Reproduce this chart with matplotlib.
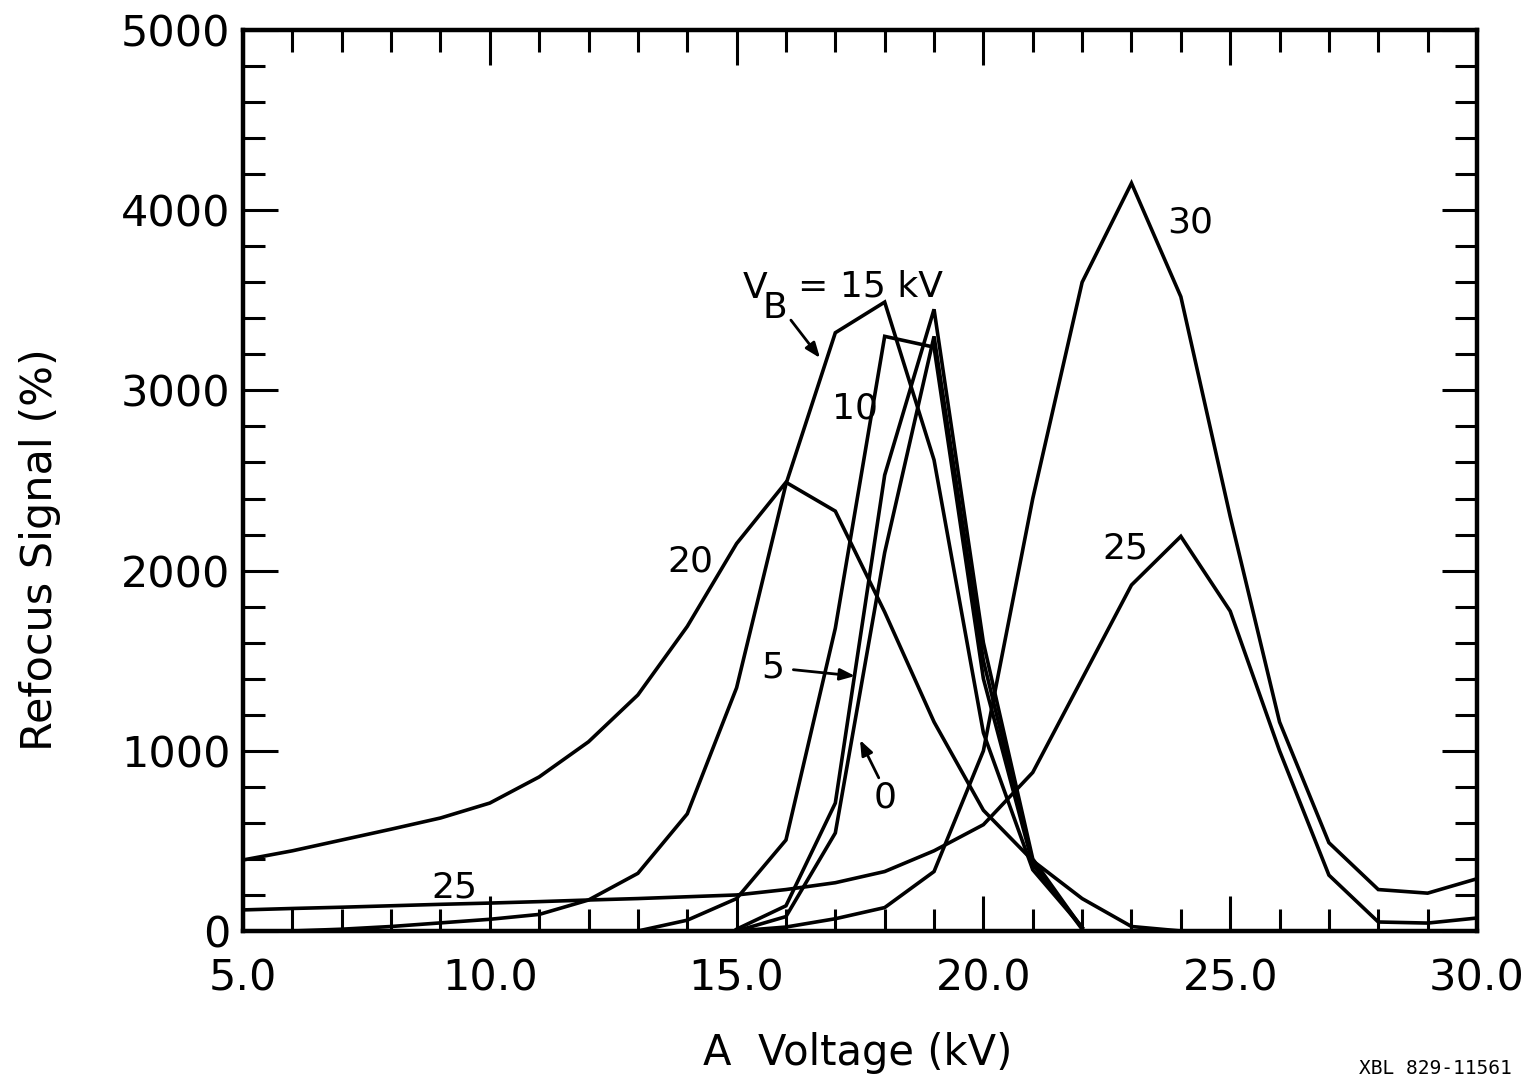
import matplotlib
matplotlib.use("Agg")
import matplotlib.pyplot as plt
from matplotlib.ticker import MultipleLocator, FixedFormatter, FixedLocator

# refocus signal (%) vs A voltage (kV), one curve per B voltage
vb0_x = [15, 16, 17, 18, 19, 20, 21, 22]
vb0_y = [0, 80, 544, 2100, 3300, 1500, 380, 10]

vb5_x = [15, 16, 17, 18, 19, 20, 21, 22]
vb5_y = [10, 140, 710, 2530, 3450, 1600, 400, 15]

vb10_x = [13, 14, 15, 16, 17, 18, 19, 20, 21, 22]
vb10_y = [0, 60, 180, 505, 1680, 3300, 3240, 1400, 370, 20]

vb15_x = list(range(6, 23))
vb15_y = [0, 10, 25, 45, 65, 92, 172, 320, 650, 1350, 2480, 3320, 3490,
          2614, 1100, 340, 20]

vb20_x = list(range(5, 25))
vb20_y = [394, 445, 505, 565, 627, 710, 855, 1050, 1310, 1690, 2150, 2490,
          2330, 1770, 1160, 670, 390, 180, 25, 0]

vb25_x = list(range(5, 31))
vb25_y = [117, 125, 132, 140, 148, 155, 163, 172, 180, 190, 200, 230, 268,
          330, 445, 590, 880, 1400, 1920, 2190, 1775, 1000, 310, 50, 44, 72]

vb30_x = list(range(15, 31))
vb30_y = [0, 22, 68, 130, 330, 1000, 2400, 3600, 4150, 3520, 2300, 1160,
          490, 230, 210, 290]

x_ticks = [5, 10, 15, 20, 25, 30]
x_tick_labels = ["5.0", "10.0", "15.0", "20.0", "25.0", "30.0"]
y_ticks = [0, 1000, 2000, 3000, 4000, 5000]
y_tick_labels = ["0", "1000", "2000", "3000", "4000", "5000"]

curves = [
    (vb0_x, vb0_y),
    (vb5_x, vb5_y),
    (vb10_x, vb10_y),
    (vb15_x, vb15_y),
    (vb20_x, vb20_y),
    (vb25_x, vb25_y),
    (vb30_x, vb30_y),
]

fig = plt.figure(figsize=(15.31, 10.78), dpi=100)
ax = fig.add_axes([243 / 1531, 1 - 931 / 1078, 1234 / 1531, 901 / 1078])

for xs, ys in curves:
    ax.plot(xs, ys, color="black", linewidth=2.6, solid_joinstyle="miter")

ax.set_xlim(5, 30)
ax.set_ylim(0, 5000)

ax.xaxis.set_major_locator(FixedLocator(x_ticks))
ax.xaxis.set_major_formatter(FixedFormatter(x_tick_labels))
ax.xaxis.set_minor_locator(MultipleLocator(1))
ax.yaxis.set_major_locator(FixedLocator(y_ticks))
ax.yaxis.set_major_formatter(FixedFormatter(y_tick_labels))
ax.yaxis.set_minor_locator(MultipleLocator(200))

ax.tick_params(which="both", direction="in", top=True, right=True,
               width=2.2, color="black")
ax.tick_params(which="major", length=25)
ax.tick_params(which="minor", length=16)
ax.tick_params(axis="x", which="major", labelsize=31, pad=19)
ax.tick_params(axis="y", which="major", labelsize=31, pad=9)

for sp in ax.spines.values():
    sp.set_linewidth(3.2)

# curve labels
lab = dict(fontsize=26, ha="center", va="center", color="black")
ax.text(24.19, 3934, "30", **lab)
ax.text(22.87, 2125, "25", **lab)
ax.text(14.06, 2048, "20", **lab)
ax.text(17.40, 2902, "10", **lab)
ax.text(9.29, 239, "25", **lab)

arrow = dict(arrowstyle="-|>,head_length=0.9,head_width=0.35",
             color="black", lw=2.0, shrinkA=0, shrinkB=0)
ax.annotate("", xy=(17.40, 1415), xytext=(16.15, 1450), arrowprops=arrow)
ax.text(15.74, 1465, "5", **lab)
ax.annotate("", xy=(17.50, 1060), xytext=(17.88, 850), arrowprops=arrow)
ax.text(18.01, 740, "0", **lab)

ax.text(15.37, 3568, "V", **lab)
ax.text(15.78, 3455, "B", **lab)
ax.text(16.25, 3575, "= 15 kV", fontsize=26, ha="left", va="center")
ax.annotate("", xy=(16.69, 3180), xytext=(16.10, 3390), arrowprops=arrow)

fig.text(40 / 1531, 1 - 550 / 1078, "Refocus Signal (%)", rotation=90,
         fontsize=31, ha="center", va="center")
fig.text(858 / 1531, 1 - 1053 / 1078, "A  Voltage (kV)", fontsize=30,
         ha="center", va="center")
fig.text(1512 / 1531, 1 - 1068 / 1078, "XBL 829-11561", fontsize=14,
         family="DejaVu Sans Mono", ha="right", va="center")

fig.savefig("out.png", dpi=100)
